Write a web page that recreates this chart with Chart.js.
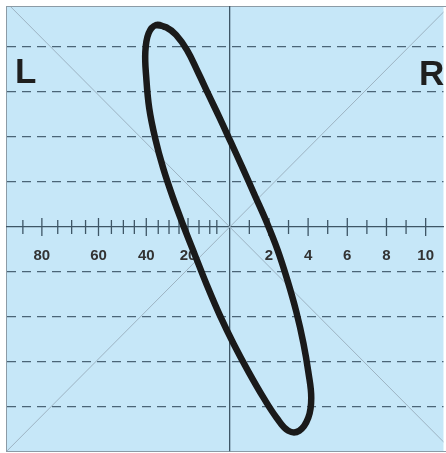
<!DOCTYPE html>
<html>
<head>
<meta charset="utf-8">
<script src="https://cdn.jsdelivr.net/npm/chart.js@4/dist/chart.umd.min.js"></script>
<style>
  html, body { margin: 0; padding: 0; background: #ffffff; overflow: hidden; }
  #wrap { width: 446px; height: 453px; position: relative; }
</style>
</head>
<body>
<div id="wrap"><canvas id="scope"></canvas></div>
<script>
// x axis: tick positions and their labels (left side non linear, right side 1..10)
const tickValues = [-10.56, -9.59, -8.78, -8.07, -7.36, -6.70, -6.04, -5.43, -4.87, -4.26,
                    -3.65, -3.10, -2.59, -2.13, -1.57, -1.02, -0.66,
                    1, 2, 3, 4, 5, 6, 7, 8, 9, 10];
const tickLabels = ['', '80', '', '', '', '60', '', '', '', '40',
                    '', '', '', '20', '', '', '',
                    '', '2', '', '4', '', '6', '', '8', '', '10'];
// horizontal dashed lines
const gridRows = [-4, -3, -2, -1, 1, 2, 3, 4];

// the loop (clockwise from the top)
const loopX = [-3.76, -3.25, -2.74, -2.18, -1.62, -1.07, -0.51, 0.05, 0.66, 1.27, 1.88,
               2.44, 2.94, 3.40, 3.76, 4.01, 4.16, 4.01, 3.55, 2.99, 2.39,
               1.73, 0.96, 0.20, -0.51, -1.17, -1.78, -2.34, -2.89, -3.40, -3.81,
               -4.11, -4.26, -4.31, -4.14, -3.76, -3.25];
const loopY = [4.49, 4.44, 4.27, 3.93, 3.44, 2.93, 2.42, 1.89, 1.31, 0.71, 0.11,
               -0.51, -1.18, -1.89, -2.58, -3.22, -3.80, -4.24, -4.53, -4.53, -4.24,
               -3.80, -3.22, -2.60, -1.96, -1.29, -0.62, 0.00, 0.64, 1.31, 1.98,
               2.64, 3.31, 3.89, 4.31, 4.49, 4.44];

// the two thin diagonals
const diagA = [{x: -11.42, y: 5}, {x: 11.42, y: -5}];
const diagB = [{x: -11.42, y: -5}, {x: 11.42, y: 5}];

const xMin = -11.37, xMax = 10.91;
const yMin = -4.98, yMax = 4.89;

const loopPoints = loopX.map((x, i) => ({x: x, y: loopY[i]}));

const scopeBackground = {
    id: 'scopeBackground',
    beforeDraw(chart) {
        const {ctx, chartArea: a} = chart;
        ctx.save();
        ctx.fillStyle = '#c6e7f8';
        ctx.fillRect(a.left, a.top, a.right - a.left, a.bottom - a.top);
        ctx.strokeStyle = '#8c9ba6';
        ctx.lineWidth = 1;
        ctx.strokeRect(a.left - 0.5, a.top - 0.5, a.right - a.left + 20, a.bottom - a.top + 1);
        ctx.restore();
    },
    beforeDatasetsDraw(chart) {
        //tick marks crossing the x axis
        const {ctx, scales} = chart;
        const y0 = scales.y.getPixelForValue(0);
        ctx.save();
        ctx.strokeStyle = '#3e5666';
        ctx.lineWidth = 1.3;
        tickValues.forEach((v, i) => {
            const px = scales.x.getPixelForValue(v);
            const h = tickLabels[i] ? 9 : 7;
            ctx.beginPath();
            ctx.moveTo(px, y0 - h);
            ctx.lineTo(px, y0 + h);
            ctx.stroke();
        });
        // L and R
        const a = chart.chartArea;
        ctx.fillStyle = '#1f1f1f';
        ctx.font = 'bold 35px "Liberation Sans", Arial, sans-serif';
        ctx.textBaseline = 'alphabetic';
        ctx.fillText('L', a.left + 8, a.top + 76);
        ctx.fillText('R', a.left + 412, a.top + 78);
        ctx.restore();
    }
};

window.onload = () => {
    new Chart(document.getElementById('scope'), {
        type: 'scatter',
        data: {
            datasets: [{
                label: 'loop',
                data: loopPoints,
                showLine: true,
                borderColor: '#1a1a1a',
                borderWidth: 6.5,
                pointRadius: 0,
                tension: 0.4,
                borderCapStyle: 'round',
                borderJoinStyle: 'round'
            }, {
                label: 'diagA',
                data: diagA,
                showLine: true,
                borderColor: '#9db3c2',
                borderWidth: 1,
                pointRadius: 0
            }, {
                label: 'diagB',
                data: diagB,
                showLine: true,
                borderColor: '#9db3c2',
                borderWidth: 1,
                pointRadius: 0
            }]
        },
        options: {
            responsive: true,
            maintainAspectRatio: false,
            animation: false,
            layout: { padding: { left: 7, top: 7, right: 0, bottom: 2 } },
            plugins: { legend: { display: false }, tooltip: { enabled: false } },
            scales: {
                x: {
                    type: 'linear',
                    position: { y: 0 },
                    min: xMin,
                    max: xMax,
                    afterBuildTicks: (scale) => {
                        scale.ticks = tickValues.map(v => ({value: v}));
                    },
                    ticks: {
                        autoSkip: false,
                        maxRotation: 0,
                        padding: 12,
                        color: '#333333',
                        font: { family: '"Liberation Sans", Arial, sans-serif', size: 15, weight: 'bold' },
                        callback: (value, index) => tickLabels[index]
                    },
                    grid: { display: false },
                    border: { display: true, color: '#3e5666', width: 1.3 }
                },
                y: {
                    type: 'linear',
                    position: { x: 0 },
                    min: yMin,
                    max: yMax,
                    afterBuildTicks: (scale) => {
                        scale.ticks = gridRows.map(v => ({value: v}));
                    },
                    ticks: { display: false },
                    grid: {
                        drawTicks: false,
                        color: '#4b6577',
                        lineWidth: 1.3
                    },
                    border: { display: true, color: '#3e5666', width: 1.3, dash: [9, 6] }
                }
            }
        },
        plugins: [scopeBackground]
    });
};
</script>
</body>
</html>
